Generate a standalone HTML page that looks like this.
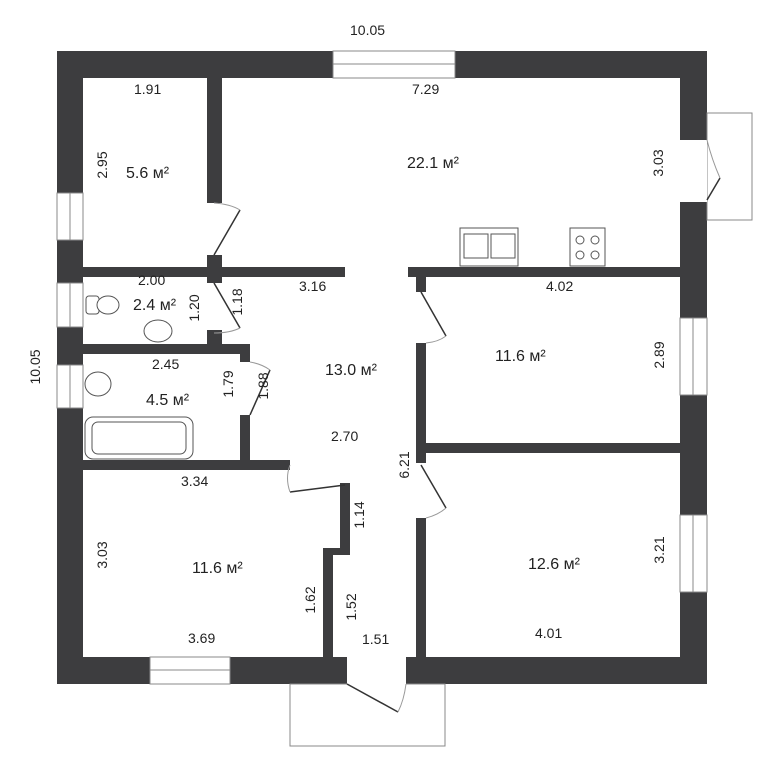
<!DOCTYPE html>
<html><head><meta charset="utf-8"><style>
html,body{margin:0;padding:0;background:#fff;}
svg{display:block;}
text{font-family:"Liberation Sans",sans-serif;fill:#222;}
</style></head><body>
<svg width="768" height="768" viewBox="0 0 768 768" xmlns="http://www.w3.org/2000/svg">
<rect width="768" height="768" fill="#fff"/>
<g fill="#3d3d3f">
<!-- outer walls -->
<rect x="57" y="51" width="650" height="27"/>
<rect x="57" y="51" width="26" height="633"/>
<rect x="680" y="51" width="27" height="633"/>
<rect x="57" y="657" width="650" height="27"/>
<!-- interior -->
<rect x="207" y="78" width="15" height="125"/>
<rect x="207" y="255" width="15" height="28"/>
<rect x="83" y="267" width="262" height="10"/>
<rect x="408" y="267" width="272" height="10"/>
<rect x="416" y="277" width="10" height="15"/>
<rect x="207" y="330" width="15" height="14"/>
<rect x="83" y="344" width="167" height="10"/>
<rect x="240" y="344" width="10" height="18"/>
<rect x="240" y="415" width="10" height="50"/>
<rect x="83" y="460" width="207" height="10"/>
<rect x="416" y="343" width="10" height="120"/>
<rect x="416" y="443" width="264" height="10"/>
<rect x="416" y="518" width="10" height="140"/>
<rect x="340" y="483" width="10" height="72"/>
<rect x="323" y="548" width="27" height="7"/>
<rect x="323" y="548" width="10" height="110"/>
</g>
<!-- windows -->
<g fill="#fff" stroke="#888" stroke-width="1">
<rect x="333" y="51" width="122" height="27"/>
<rect x="57" y="193" width="26" height="47"/>
<rect x="57" y="283" width="26" height="44"/>
<rect x="57" y="365" width="26" height="43"/>
<rect x="680" y="318" width="27" height="77"/>
<rect x="680" y="515" width="27" height="77"/>
<rect x="150" y="657" width="80" height="27"/>
<rect x="707" y="113" width="45" height="107"/>
<rect x="290" y="684" width="155" height="62"/>
</g>
<rect x="680" y="140" width="27" height="62" fill="#fff"/>
<rect x="347" y="656" width="59" height="29" fill="#fff"/>
<g stroke="#888" stroke-width="1">
<line x1="333" y1="64" x2="455" y2="64"/><line x1="70" y1="193" x2="70" y2="240"/><line x1="70" y1="283" x2="70" y2="327"/><line x1="70" y1="365" x2="70" y2="408"/><line x1="693" y1="318" x2="693" y2="395"/><line x1="693" y1="515" x2="693" y2="592"/><line x1="150" y1="670" x2="230" y2="670"/>
</g>
<!-- doors -->
<g stroke="#333" stroke-width="1.5" fill="none">
<line x1="214" y1="255" x2="240" y2="210"/><path d="M240 210 Q230 204 214 203" stroke="#999" stroke-width="1"/>
<line x1="214" y1="283" x2="240" y2="328"/><path d="M240 328 Q230 333 214 333" stroke="#999" stroke-width="1"/>
<line x1="250" y1="415" x2="270" y2="370"/><path d="M270 370 Q262 364 250 362" stroke="#999" stroke-width="1"/>
<line x1="345" y1="485" x2="290" y2="492"/><path d="M290 492 Q285 478 290 465" stroke="#999" stroke-width="1"/>
<line x1="421" y1="292" x2="446" y2="336"/><path d="M446 336 Q438 342 426 343" stroke="#999" stroke-width="1"/>
<line x1="421" y1="465" x2="446" y2="508"/><path d="M446 508 Q438 515 426 518" stroke="#999" stroke-width="1"/>
<line x1="347" y1="684" x2="398" y2="712"/><path d="M398 712 Q404 700 406 684" stroke="#999" stroke-width="1"/>
<line x1="707" y1="200" x2="720" y2="178"/><path d="M720 178 Q712 160 707 140" stroke="#999" stroke-width="1"/>
</g>
<!-- fixtures -->
<g stroke="#555" stroke-width="1" fill="#fff">
<rect x="460" y="228" width="58" height="38"/><rect x="464" y="234" width="24" height="24"/><rect x="491" y="234" width="24" height="24"/>
<rect x="570" y="228" width="35" height="38"/><circle cx="580" cy="240" r="4"/><circle cx="595" cy="240" r="4"/><circle cx="580" cy="255" r="4"/><circle cx="595" cy="255" r="4"/>
<rect x="86" y="296" width="13" height="18" rx="3"/><ellipse cx="108" cy="305" rx="11" ry="9"/>
<ellipse cx="158" cy="331" rx="14" ry="11"/>
<ellipse cx="98" cy="384" rx="13" ry="12"/>
<rect x="85" y="417" width="108" height="42" rx="8"/><rect x="92" y="422" width="94" height="32" rx="6"/>
</g>
<!-- labels -->
<g font-size="14">
<text x="350" y="35">10.05</text>
<text x="134" y="94">1.91</text>
<text x="412" y="94">7.29</text>
<text x="126" y="178" font-size="16">5.6 м²</text>
<text x="407" y="168" font-size="16">22.1 м²</text>
<text x="138" y="285">2.00</text>
<text x="299" y="291">3.16</text>
<text x="546" y="291">4.02</text>
<text x="133" y="310" font-size="16">2.4 м²</text>
<text x="152" y="369">2.45</text>
<text x="325" y="375" font-size="16">13.0 м²</text>
<text x="495" y="361" font-size="16">11.6 м²</text>
<text x="146" y="405" font-size="16">4.5 м²</text>
<text x="331" y="441">2.70</text>
<text x="181" y="486">3.34</text>
<text x="192" y="573" font-size="16">11.6 м²</text>
<text x="528" y="569" font-size="16">12.6 м²</text>
<text x="188" y="643">3.69</text>
<text x="362" y="644">1.51</text>
<text x="535" y="638">4.01</text>
</g>
<g font-size="14">
<text transform="translate(107,165) rotate(-90)" text-anchor="middle">2.95</text>
<text transform="translate(663,163) rotate(-90)" text-anchor="middle">3.03</text>
<text transform="translate(40,367) rotate(-90)" text-anchor="middle">10.05</text>
<text transform="translate(199,308) rotate(-90)" text-anchor="middle">1.20</text>
<text transform="translate(242,302) rotate(-90)" text-anchor="middle">1.18</text>
<text transform="translate(233,384) rotate(-90)" text-anchor="middle">1.79</text>
<text transform="translate(268,386) rotate(-90)" text-anchor="middle">1.88</text>
<text transform="translate(664,355) rotate(-90)" text-anchor="middle">2.89</text>
<text transform="translate(409,465) rotate(-90)" text-anchor="middle">6.21</text>
<text transform="translate(364,515) rotate(-90)" text-anchor="middle">1.14</text>
<text transform="translate(107,555) rotate(-90)" text-anchor="middle">3.03</text>
<text transform="translate(664,550) rotate(-90)" text-anchor="middle">3.21</text>
<text transform="translate(315,600) rotate(-90)" text-anchor="middle">1.62</text>
<text transform="translate(356,607) rotate(-90)" text-anchor="middle">1.52</text>
</g>
</svg>
</body></html>
